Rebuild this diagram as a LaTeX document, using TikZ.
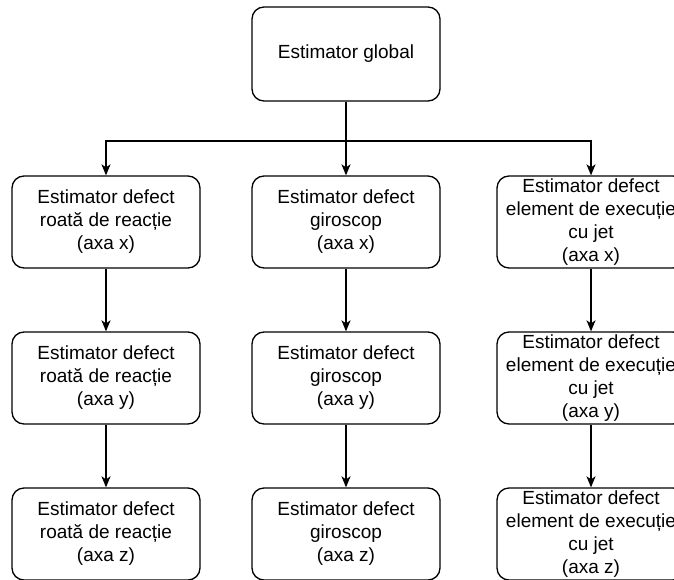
\documentclass[tikz,border=0pt]{standalone}
\usepackage{fontspec}
\setmainfont{Liberation Sans}
\usetikzlibrary{arrows.meta}
\begin{document}
\begin{tikzpicture}[x=1pt,y=-1pt,
  box/.style={draw=black, line width=1.3pt, rounded corners=12pt, fill=white,
    minimum width=188pt, minimum height=92pt, inner sep=0pt, align=center,
    font=\fontsize{19}{23}\selectfont},
  arr/.style={draw=black, line width=1.3pt, -{Stealth[length=11pt,width=9pt,inset=3pt]}}]
\useasboundingbox (0,0) rectangle (674,580);
\clip (0,0) rectangle (674,580);
\fill[white] (0,0) rectangle (674,580);
\node[box, minimum height=94pt] (top) at (346,54) {Estimator global};
% row 1
\node[box] (l1) at (106,222) {Estimator defect\\roată de reacție\\(axa x)};
\node[box] (m1) at (346,222) {Estimator defect\\giroscop\\(axa x)};
\node[box] (r1) at (591,222) {Estimator defect\\element de execuție\\cu jet\\(axa x)};
% row 2
\node[box] (l2) at (106,378) {Estimator defect\\roată de reacție\\(axa y)};
\node[box] (m2) at (346,378) {Estimator defect\\giroscop\\(axa y)};
\node[box] (r2) at (591,378) {Estimator defect\\element de execuție\\cu jet\\(axa y)};
% row 3
\node[box] (l3) at (106,534) {Estimator defect\\roată de reacție\\(axa z)};
\node[box] (m3) at (346,534) {Estimator defect\\giroscop\\(axa z)};
\node[box] (r3) at (591,534) {Estimator defect\\element de execuție\\cu jet\\(axa z)};
% connectors
\coordinate (j) at (346,141);
\draw[arr] (top.south) -- (m1.north);
\draw[arr] (j) -| (l1.north);
\draw[arr] (j) -| (r1.north);
\draw[arr] (l1) -- (l2);
\draw[arr] (l2) -- (l3);
\draw[arr] (m1) -- (m2);
\draw[arr] (m2) -- (m3);
\draw[arr] (r1) -- (r2);
\draw[arr] (r2) -- (r3);
\end{tikzpicture}
\end{document}
